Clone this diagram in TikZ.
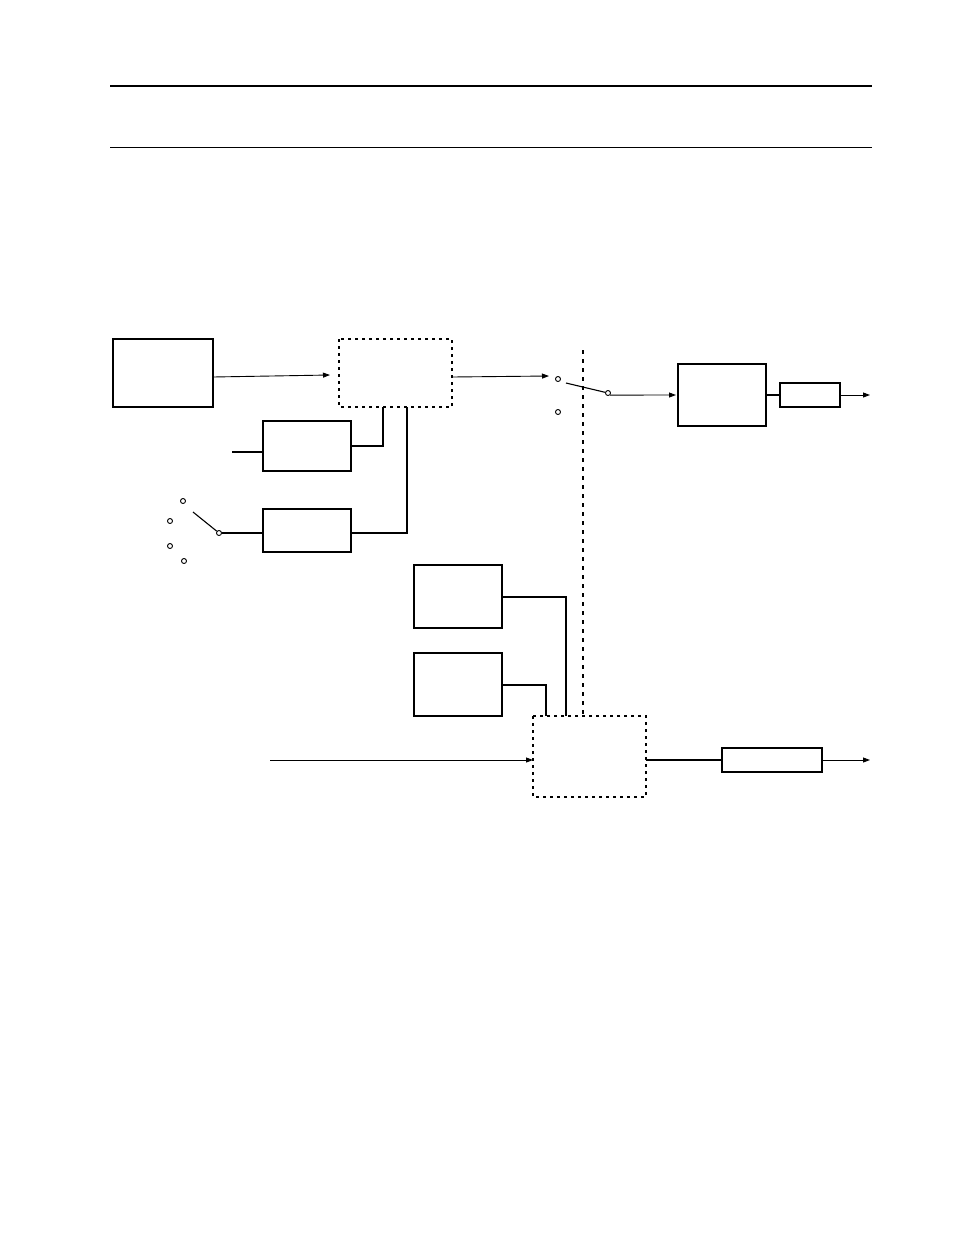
\documentclass[tikz,border=0pt]{standalone}
\usetikzlibrary{arrows.meta}
\begin{document}
\begin{tikzpicture}[x=1pt,y=-1pt,
 blk/.style={draw,line width=1.2pt},
 dbox/.style={draw,line width=1.1pt,dash pattern=on 3pt off 4pt},
 wire/.style={line width=1.1pt},
 arr/.style={line width=0.9pt,-{Triangle[length=7pt,width=5pt]}},
 pin/.style={draw,circle,line width=0.9pt,inner sep=0pt,minimum size=5pt}]
\useasboundingbox (0,0) rectangle (954,1235);
\draw[line width=1.5pt] (110,86)--(872,86);
\draw[line width=0.8pt] (110,147)--(872,147);
\draw[blk] (113,339) rectangle (213,407);
\draw[dbox] (339,339) rectangle (452,407);
\draw[blk] (263,421) rectangle (351,471);
\draw[blk] (263,509) rectangle (351,552);
\draw[blk] (678,364) rectangle (766,426);
\draw[blk] (780,383) rectangle (840,407);
\draw[blk] (414,565) rectangle (502,628);
\draw[blk] (414,653) rectangle (502,716);
\draw[dbox] (533,716) rectangle (646,797);
\draw[blk] (722,748) rectangle (822,772);
% wires
\draw[arr] (213,377)--(330,375);
\draw[wire] (232,452)--(263,452);
\draw[wire] (351,446)--(383,446)--(383,407);
\draw[wire] (351,533)--(407,533)--(407,407);
\node[pin] (s1) at (183,501) {};
\node[pin] (s2) at (170,521) {};
\node[pin] (s3) at (170,546) {};
\node[pin] (s4) at (184,561) {};
\node[pin] (sp) at (219,533) {};
\draw[wire] (193,512)--(sp);
\draw[wire] (sp)--(263,533);
\draw[arr] (452,377)--(549,376);
\node[pin] (t1) at (558,379) {};
\node[pin] (t2) at (558,412) {};
\node[pin] (tp) at (608,393) {};
\draw[wire] (566,383)--(tp);
\draw[arr] (tp.south east)--(676,395);
\draw[wire] (766,395)--(780,395);
\draw[arr] (840,395)--(870,395);
\draw[line width=1.1pt,dash pattern=on 4pt off 5pt] (583,350)--(583,715);
\draw[wire] (502,597)--(566,597)--(566,716);
\draw[wire] (502,685)--(546,685)--(546,716);
\draw[arr] (270,760)--(533,760);
\draw[wire] (646,760)--(722,760);
\draw[arr] (822,760)--(870,760);
\end{tikzpicture}
\end{document}
